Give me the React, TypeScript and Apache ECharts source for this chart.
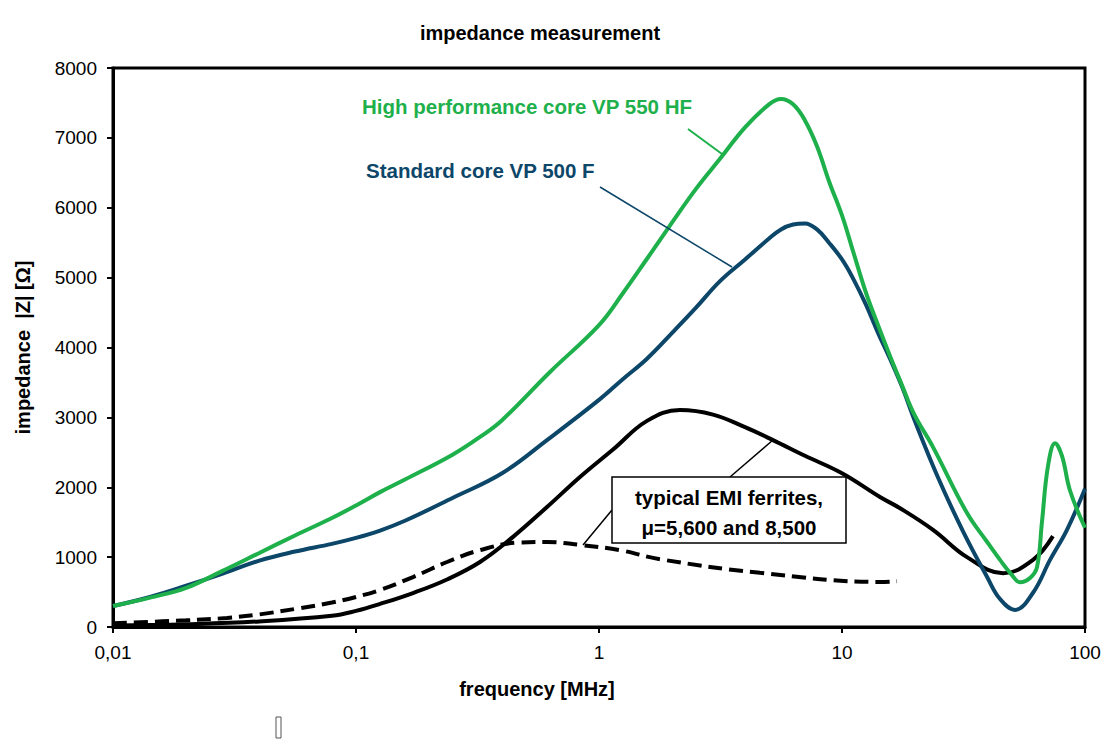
import React, { useEffect, useRef } from "react";
import * as echarts from "echarts";

const xTickLabels = ["0,01", "0,1", "1", "10", "100"];

const greenFreq = [0.01, 0.0142, 0.02, 0.0281, 0.04, 0.0561, 0.0796, 0.1, 0.1256, 0.159, 0.2507, 0.3238, 0.399, 0.6286, 1, 1.256, 1.576, 2.0, 2.507, 3.147, 3.99, 5.01, 5.61, 6.29, 7.04, 7.89, 8.84, 10, 11.1, 12.56, 14.07, 15.76, 17.66, 19.78, 23.69, 32.7, 39.5, 44.7, 49.6, 54.0, 59.4, 63.5, 66.5, 70.4, 75.3, 80.4, 86.8, 100];
const greenZ = [300, 420, 560, 800, 1060, 1310, 1560, 1740, 1930, 2110, 2470, 2720, 2960, 3650, 4320, 4780, 5270, 5790, 6270, 6700, 7150, 7480, 7555, 7480, 7250, 6880, 6380, 5890, 5380, 4780, 4320, 3880, 3460, 3050, 2575, 1630, 1220, 960, 760, 640, 700, 860, 1500, 2300, 2630, 2450, 1950, 1420];

const navyFreq = [0.01, 0.0142, 0.02, 0.0281, 0.04, 0.0561, 0.0796, 0.1, 0.1256, 0.159, 0.2507, 0.399, 0.611, 1, 1.256, 1.576, 2.0, 2.507, 3.147, 3.99, 5.01, 5.61, 6.29, 7.04, 7.89, 8.84, 10, 11.1, 12.56, 14.07, 15.76, 17.66, 19.78, 24.84, 31.48, 39.5, 44.7, 51.5, 61.1, 71.8, 84.3, 100];
const navyZ = [300, 430, 590, 760, 950, 1080, 1190, 1275, 1380, 1520, 1850, 2200, 2675, 3250, 3550, 3840, 4210, 4570, 4950, 5260, 5560, 5690, 5760, 5775, 5690, 5500, 5260, 4990, 4610, 4210, 3840, 3440, 2980, 2140, 1370, 720, 400, 245, 490, 960, 1390, 1980];

const emiFreq = [0.01, 0.02, 0.04, 0.0796, 0.1, 0.1256, 0.1716, 0.2369, 0.3238, 0.4428, 0.611, 0.835, 1.142, 1.576, 2.154, 2.945, 3.99, 5.2, 7.04, 10, 14.33, 17.33, 23.69, 32.7, 46.0, 61.1, 73.8];
const emiZ = [20, 40, 80, 160, 230, 330, 486, 680, 930, 1290, 1717, 2147, 2540, 2950, 3105, 3040, 2860, 2675, 2450, 2200, 1860, 1700, 1390, 1000, 770, 960, 1300];

const emi2Freq = [0.01, 0.02, 0.02945, 0.04, 0.0588, 0.0796, 0.1, 0.1256, 0.1716, 0.2369, 0.3238, 0.4731, 0.611, 0.835, 1.22, 1.782, 4.6, 14.33, 16.84];
const emi2Z = [55, 95, 130, 180, 270, 350, 430, 530, 715, 930, 1100, 1210, 1216, 1175, 1100, 970, 775, 645, 655];

const GREEN = "#1db04b";
const NAVY = "#0c4669";
const NARROW = "'Liberation Sans Narrow', 'Arial Narrow', 'Liberation Sans', Arial, sans-serif";
const REG = "'Liberation Sans', Arial, sans-serif";

const pairs = (xs: number[], ys: number[]) => xs.map((x, i) => [x, ys[i]]);

export default function App() {
  const ref = useRef<HTMLDivElement>(null);
  useEffect(() => {
    document.body.style.margin = "0";
    const chart = echarts.init(ref.current!, undefined, { renderer: "svg" });
    const lineSeries = (name: string, data: number[][], color: string, dashed = false) => ({
      name,
      type: "line",
      data,
      smooth: 0.4,
      showSymbol: false,
      symbol: "none",
      lineStyle: { color, width: 4, type: dashed ? [14, 7] : "solid" },
      z: 3,
    });
    const annot = (text: string, x: number, y: number, fill: string, align = "left") => ({
      type: "text",
      z: 11,
      style: {
        text,
        x,
        y,
        align,
        verticalAlign: "middle",
        fontSize: 20.5,
        fontWeight: "bold",
        fontFamily: NARROW,
        fill,
      },
    });
    chart.setOption({
      animation: false,
      backgroundColor: "#fff",
      grid: {
        left: 113,
        right: 35,
        top: 68,
        bottom: 128,
        show: true,
        borderColor: "#000",
        borderWidth: 3,
        containLabel: false,
      },
      xAxis: {
        type: "log",
        logBase: 10,
        min: 0.01,
        max: 100,
        axisLine: { show: true, lineStyle: { color: "#000", width: 3 } },
        axisTick: { show: true, inside: false, length: 6, lineStyle: { color: "#000", width: 2 } },
        minorTick: { show: false },
        splitLine: { show: false },
        axisLabel: {
          color: "#000",
          fontSize: 19,
          fontFamily: REG,
          margin: 16,
          formatter: (v: number) => {
            const idx = Math.round(Math.log10(v)) + 2;
            return xTickLabels[idx] ?? String(v);
          },
        },
      },
      yAxis: {
        type: "value",
        min: 0,
        max: 8000,
        interval: 1000,
        name: "impedance  |Z| [Ω]",
        nameLocation: "middle",
        nameGap: 80,
        nameRotate: 90,
        nameTextStyle: { color: "#000", fontSize: 20, fontWeight: "bold", fontFamily: NARROW },
        axisLine: { show: true, lineStyle: { color: "#000", width: 3 } },
        axisTick: { show: true, inside: false, length: 6, lineStyle: { color: "#000", width: 2 } },
        splitLine: { show: false },
        axisLabel: {
          color: "#000",
          fontSize: 19,
          fontFamily: REG,
          margin: 16,
          formatter: (v: number) => String(Math.round(v)),
        },
      },
      series: [
        lineSeries("typical EMI ferrites μ=8,500", pairs(emi2Freq, emi2Z), "#000", true),
        lineSeries("typical EMI ferrites μ=5,600", pairs(emiFreq, emiZ), "#000"),
        lineSeries("Standard core VP 500 F", pairs(navyFreq, navyZ), NAVY),
        lineSeries("High performance core VP 550 HF", pairs(greenFreq, greenZ), GREEN),
      ],
      graphic: [
        {
          type: "text",
          style: {
            text: "impedance measurement",
            x: 540,
            y: 33,
            align: "center",
            verticalAlign: "middle",
            fontSize: 20,
            fontWeight: "bold",
            fontFamily: NARROW,
            fill: "#000",
          },
        },
        {
          type: "text",
          style: {
            text: "frequency [MHz]",
            x: 537,
            y: 689,
            align: "center",
            verticalAlign: "middle",
            fontSize: 20,
            fontWeight: "bold",
            fontFamily: NARROW,
            fill: "#000",
          },
        },
        annot("High performance core VP 550 HF", 362, 106, GREEN),
        annot("Standard core VP 500 F", 366, 170, NAVY),
        { type: "line", shape: { x1: 688, y1: 129, x2: 722, y2: 154 }, style: { stroke: GREEN, lineWidth: 2 }, z: 10 },
        { type: "line", shape: { x1: 600, y1: 187, x2: 732, y2: 267 }, style: { stroke: NAVY, lineWidth: 1.5 }, z: 10 },
        { type: "line", shape: { x1: 730, y1: 477, x2: 773, y2: 440 }, style: { stroke: "#000", lineWidth: 1.5 }, z: 10 },
        { type: "line", shape: { x1: 612, y1: 510, x2: 583, y2: 545 }, style: { stroke: "#000", lineWidth: 1.5 }, z: 10 },
        {
          type: "rect",
          shape: { x: 612, y: 477, width: 234, height: 66 },
          style: { fill: "#fff", stroke: "#000", lineWidth: 1.5 },
          z: 10,
        },
        annot("typical EMI ferrites,", 729, 497, "#000", "center"),
        annot("μ=5,600 and 8,500", 729, 527, "#000", "center"),
        {
          type: "rect",
          shape: { x: 276, y: 717, width: 5, height: 21 },
          style: { fill: "none", stroke: "#555", lineWidth: 1 },
          z: 10,
        },
      ],
    });
    return () => chart.dispose();
  }, []);
  return <div ref={ref} style={{ width: 1120, height: 755 }} />;
}
